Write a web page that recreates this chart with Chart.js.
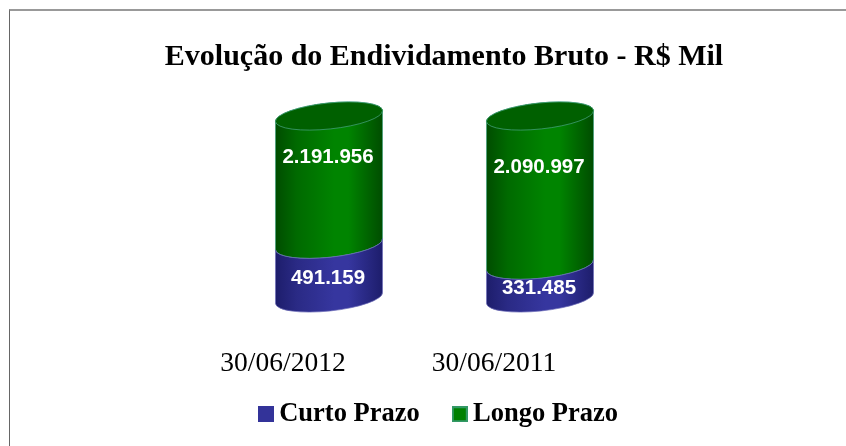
<!DOCTYPE html>
<html lang="pt">
<head>
<meta charset="utf-8">
<style>
html,body{margin:0;padding:0;background:#fff;overflow:hidden}
#wrap{position:relative;width:846px;height:446px}
#frame{position:absolute;left:9px;top:9px;right:0;bottom:0;border-left:1px solid #666;border-top:2px solid #999;pointer-events:none}
canvas{display:block}
</style>
<script src="https://cdn.jsdelivr.net/npm/chart.js@4/dist/chart.umd.min.js"></script>
</head>
<body>
<div id="wrap"><canvas id="c" width="846" height="446"></canvas><div id="frame"></div></div>
<script>
const chartTitle = 'Evolução do Endividamento Bruto - R$ Mil';
const categories = ['30/06/2012', '30/06/2011'];
const seriesNames = ['Curto Prazo', 'Longo Prazo'];
// Printed values, as shown on the cylinders.
const curtoPrazoLabels = ['491.159', '331.485'];
const longoPrazoLabels = ['2.191.956', '2.090.997'];
// Drawn share of each cylinder (the source drawing is not proportional to the printed values).
const curtoPrazoShare = [29.5, 18];
const longoPrazoShare = [70.5, 82];

const BLUE = '#333399', GREEN = '#008000';
const PALETTE = {
  [BLUE]: {edge:'#1d1d6b', near:'#2a2a85', mid:'#36369f', line:'rgba(110,110,185,.7)'},
  [GREEN]: {edge:'#004c00', near:'#006a00', mid:'#008400', line:'rgba(70,160,125,.75)'}
};
const TILT = -6 * Math.PI / 180, RY = 13;

function sideGradient(ctx, l, r, p) {
  const g = ctx.createLinearGradient(l, 0, r, 0);
  g.addColorStop(0, p.edge);
  g.addColorStop(.2, p.near);
  g.addColorStop(.55, p.mid);
  g.addColorStop(.68, p.mid);
  g.addColorStop(1, p.edge);
  return g;
}
// Each bar is rendered as a cylinder, from the geometry the bar scale computed.
class CylinderBar extends Chart.BarElement {
  draw(ctx) {
    const {x, y, base, width} = this, rx = width / 2;
    const colour = this.options.backgroundColor;
    const p = PALETTE[colour];
    const isTop = colour === GREEN;
    ctx.save();
    ctx.beginPath();
    ctx.ellipse(x, base, rx, RY, TILT, 0, Math.PI);
    if (isTop) ctx.ellipse(x, y, rx, RY, TILT, Math.PI, 2 * Math.PI);
    else ctx.ellipse(x, y, rx, RY, TILT, Math.PI, 0, true);
    ctx.closePath();
    ctx.fillStyle = sideGradient(ctx, x - rx, x + rx, p);
    ctx.fill();
    ctx.lineWidth = 1;
    ctx.strokeStyle = p.line;
    ctx.stroke();
    if (isTop) {
      ctx.beginPath();
      ctx.ellipse(x, y, rx, RY, TILT, 0, 2 * Math.PI);
      ctx.fillStyle = '#006000';
      ctx.fill();
      ctx.strokeStyle = p.line;
      ctx.stroke();
    }
    ctx.restore();
  }
}
CylinderBar.id = 'cylinderBar';
CylinderBar.defaults = Chart.BarElement.defaults;
CylinderBar.defaultRoutes = Chart.BarElement.defaultRoutes;
class CylinderController extends Chart.BarController {}
CylinderController.id = 'cylinder';
CylinderController.defaults = Object.assign({}, Chart.BarController.defaults, {dataElementType: 'cylinderBar'});
CylinderController.overrides = Chart.BarController.overrides;
Chart.register(CylinderBar, CylinderController);

function swatch(fill, border) {
  const c = document.createElement('canvas');
  c.width = 16; c.height = 16;
  const g = c.getContext('2d');
  g.fillStyle = border; g.fillRect(0, 0, 16, 16);
  g.fillStyle = fill; g.fillRect(2, 2, 12, 12);
  return c;
}

const valueLabels = {
  id: 'valueLabels',
  afterLayout(chart) {
    // The legend sits closer to the axis labels than Chart.js's own box stacking allows.
    const l = chart.legend;
    l.top -= 18; l.bottom -= 18; l.left -= 2; l.right -= 2;
  },
  afterDatasetsDraw(chart) {
    const ctx = chart.ctx;
    const printed = [curtoPrazoLabels, longoPrazoLabels];
    const shift = [7, -23];
    ctx.save();
    ctx.font = 'bold 20.5px "Liberation Sans", Arial, sans-serif';
    ctx.fillStyle = '#fff';
    ctx.textAlign = 'center';
    ctx.textBaseline = 'middle';
    printed.forEach((texts, d) => {
      chart.getDatasetMeta(d).data.forEach((el, i) => {
        ctx.fillText(texts[i], el.x - 1, (el.y + el.base) / 2 + shift[d]);
      });
    });
    ctx.restore();
  }
};

new Chart(document.getElementById('c'), {
  type: 'cylinder',
  data: {
    labels: categories,
    datasets: [
      {label: seriesNames[0], data: curtoPrazoShare, backgroundColor: BLUE, borderColor: BLUE, borderWidth: 1, clip: false},
      {label: seriesNames[1], data: longoPrazoShare, backgroundColor: GREEN, borderColor: '#339966', borderWidth: 2, clip: false}
    ]
  },
  options: {
    responsive: false,
    animation: false,
    barPercentage: 0.51,
    categoryPercentage: 1,
    layout: {padding: {left: 42, right: 0, top: 0, bottom: 0}},
    plugins: {
      title: {
        display: true, text: chartTitle, color: '#000',
        font: {family: '"Liberation Serif", "Times New Roman", serif', size: 30, weight: 'bold'},
        padding: {top: 39, bottom: 41}
      },
      legend: {
        position: 'bottom',
        maxHeight: 67,
        labels: {
          color: '#000', boxHeight: 16, padding: 40, usePointStyle: true, pointStyleWidth: 0.01,
          font: {family: '"Liberation Serif", "Times New Roman", serif', size: 26.5, weight: 'bold'},
          generateLabels(chart) {
            const items = Chart.defaults.plugins.legend.labels.generateLabels(chart);
            return items.map((it, i) => Object.assign(it, {
              pointStyle: i === 0 ? swatch(BLUE, BLUE) : swatch(GREEN, '#339966')
            }));
          }
        }
      },
      tooltip: {enabled: false}
    },
    scales: {
      x: {
        stacked: true,
        grid: {display: false}, border: {display: false},
        ticks: {
          color: '#000', padding: 41, labelOffset: -46, maxRotation: 0, autoSkip: false,
          font: {family: '"Liberation Serif", "Times New Roman", serif', size: 27.5}
        },
        afterFit(s) { s.height = 81; }
      },
      y: {
        stacked: true, min: 0, max: 100,
        grid: {display: false}, border: {display: false},
        ticks: {display: false},
        afterFit(s) { s.width = 181.5; }
      },
      yRight: {
        position: 'right', min: 0, max: 100,
        grid: {display: false}, border: {display: false},
        ticks: {display: false},
        afterFit(s) { s.width = 200.5; }
      }
    }
  },
  plugins: [valueLabels]
});
</script>
</body>
</html>
